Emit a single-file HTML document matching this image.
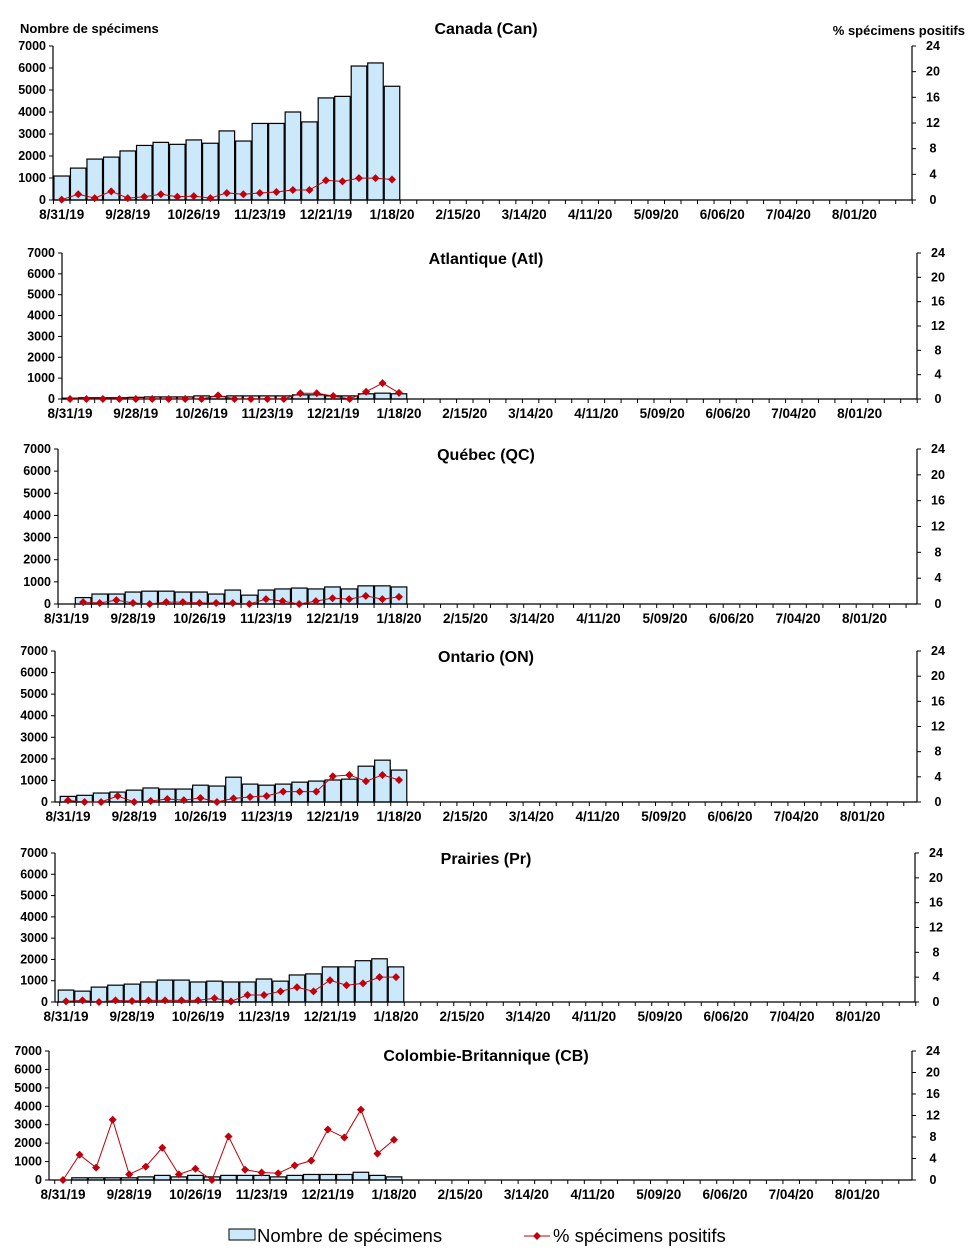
<!DOCTYPE html>
<html><head><meta charset="utf-8"><style>
body{margin:0;background:#fff;width:971px;height:1258px;overflow:hidden}
svg{display:block;font-family:"Liberation Sans",Arial,sans-serif}
</style></head><body>
<svg id="chart" width="971" height="1258" viewBox="0 0 971 1258" xmlns="http://www.w3.org/2000/svg">
<text x="20" y="33" font-size="13" font-weight="bold">Nombre de spécimens</text>
<text x="965" y="35" font-size="13" font-weight="bold" text-anchor="end">% spécimens positifs</text>
<g>
<rect x="229" y="1229" width="26" height="11" fill="#cce9fb" stroke="#000" stroke-width="1"/>
<text x="257" y="1242" font-size="18.5">Nombre de spécimens</text>
<line x1="524" y1="1236" x2="550" y2="1236" stroke="#c0000a" stroke-width="1"/>
<path d="M537 1232 L541 1236 L537 1240 L533 1236 Z" fill="#c0000a"/>
<text x="553" y="1242" font-size="18.5">% spécimens positifs</text>
</g>
</svg>
<script>
const xLabels = ["8/31/19","9/28/19","10/26/19","11/23/19","12/21/19","1/18/20","2/15/20","3/14/20","4/11/20","5/09/20","6/06/20","7/04/20","8/01/20"];
const leftTicks = [0,1000,2000,3000,4000,5000,6000,7000];
const rightTicks = [0,4,8,12,16,20,24];
const titles = ["Canada (Can)","Atlantique (Atl)","Québec (QC)","Ontario (ON)","Prairies (Pr)","Colombie-Britannique (CB)"];
const canSpec = [1090,1450,1860,1950,2230,2480,2620,2530,2730,2580,3140,2680,3480,3480,4000,3550,4640,4710,6090,6230,5170];
const canPct = [0.05,0.9,0.3,1.35,0.3,0.5,0.9,0.5,0.6,0.3,1.1,0.9,1.1,1.25,1.55,1.55,3.05,2.9,3.4,3.4,3.2];
const atlSpec = [40,60,60,60,80,100,100,100,150,120,150,150,150,150,200,200,150,150,250,280,250];
const atlPct = [0,0,0,0,0,0,0,0,0,0.6,0,0,0,0,0.95,0.95,0.5,0,1.2,2.6,1.0];
const qcSpec = [0,290,450,450,540,580,580,540,540,450,630,400,630,680,720,680,770,680,820,820,770];
const qcPct = [null,0.3,0.15,0.6,0.15,0,0.3,0.3,0.15,0.15,0.15,0,0.75,0.45,0,0.45,0.9,0.75,1.25,0.75,1.1];
const onSpec = [260,310,415,460,550,650,600,600,780,740,1150,830,780,830,920,970,1020,1060,1660,1940,1480];
const onPct = [0.26,0,0,0.95,0,0.15,0.48,0.3,0.63,0,0.58,0.8,0.95,1.64,1.64,1.64,4.1,4.3,3.3,4.3,3.5];
const prSpec = [560,510,700,790,840,940,1030,1030,940,980,940,940,1080,980,1270,1320,1650,1650,1940,2030,1650];
const prPct = [0.1,0.27,0,0.27,0.16,0.27,0.27,0.27,0.27,0.6,0.1,1.13,1.13,1.72,2.37,1.72,3.5,2.7,3.0,4.0,4.0];
const bcSpec = [0,120,120,120,120,170,250,170,250,170,250,250,250,170,250,300,300,300,420,250,170];
const bcPct = [0,4.7,2.3,11.2,1.05,2.5,6.0,1.05,2.1,0,8.1,1.9,1.4,1.25,2.7,3.6,9.4,7.9,13.1,4.9,7.5];

const specSeries = [canSpec,atlSpec,qcSpec,onSpec,prSpec,bcSpec];
const pctSeries = [canPct,atlPct,qcPct,onPct,prPct,bcPct];
const geo = [
 {axis:53,c0:61.7,c20:392,right:912,top:46,bottom:200,ty:34},
 {axis:62,c0:70,c20:399,right:917,top:253,bottom:399,ty:264},
 {axis:58,c0:66.5,c20:399,right:917,top:449,bottom:604,ty:460},
 {axis:55,c0:68,c20:399,right:917,top:651,bottom:802,ty:662},
 {axis:55,c0:66,c20:396,right:915,top:853,bottom:1002,ty:864},
 {axis:49,c0:63,c20:394,right:912,top:1051,bottom:1180,ty:1061}
];
const NS="http://www.w3.org/2000/svg";
const svg=document.getElementById('chart');
function mk(tag,attrs,parent){const e=document.createElementNS(NS,tag);for(const k in attrs)e.setAttribute(k,attrs[k]);(parent||svg).appendChild(e);return e;}
geo.forEach((g,p)=>{
  const grp=mk('g',{});
  
  
  const w=(g.c20-g.c0)/20;
  const xs=i=>g.c0+i*w;
  const yl=v=>g.bottom-v/7000*(g.bottom-g.top);
  const yr=v=>g.bottom-v/24*(g.bottom-g.top);
  const t=mk('text',{x:486,y:g.ty,'font-size':16,'font-weight':'bold','text-anchor':'middle'},grp);
  t.textContent=titles[p];
  
  
  specSeries[p].forEach((v,i)=>{
    if(!v) return;
    const b=mk('rect',{x:xs(i)-w/2+0.5,y:yl(v),width:w-1,height:g.bottom-yl(v),fill:'#cce9fb',stroke:'#000','stroke-width':1.2},grp);
    
    
  });
  mk('line',{x1:g.axis,y1:g.top,x2:g.axis,y2:g.bottom,stroke:'#000','stroke-width':1.2},grp);
  mk('line',{x1:g.right,y1:g.top,x2:g.right,y2:g.bottom,stroke:'#000','stroke-width':1.2},grp);
  mk('line',{x1:g.axis,y1:g.bottom,x2:g.right,y2:g.bottom,stroke:'#000','stroke-width':1.2},grp);
  leftTicks.forEach(v=>{
    const y=yl(v);
    mk('line',{x1:g.axis-4,y1:y,x2:g.axis,y2:y,stroke:'#000'},grp);
    const l=mk('text',{x:g.axis-7,y:y+4,'font-size':12.5,'font-weight':'bold','text-anchor':'end'},grp);
    l.textContent=v;
    
    
  });
  rightTicks.forEach(v=>{
    const y=yr(v);
    mk('line',{x1:g.right,y1:y,x2:g.right+4,y2:y,stroke:'#000'},grp);
    const l=mk('text',{x:g.right+21,y:y+4,'font-size':12.5,'font-weight':'bold','text-anchor':'middle'},grp);
    l.textContent=v;
    
    
  });
  for(let i=0;i<=52;i++){const x=g.c0-w/2+i*w; if(x>g.right+1)break; mk('line',{x1:x,y1:g.bottom,x2:x,y2:g.bottom+4,stroke:'#000'},grp);}
  xLabels.forEach((s,k)=>{
    const l=mk('text',{x:xs(k*4),y:g.bottom+19,'font-size':13.5,'font-weight':'bold','text-anchor':'middle'},grp);
    l.textContent=s;
    
    
  });
  const pts=[];
  pctSeries[p].forEach((v,i)=>{if(v!==null)pts.push([xs(i),yr(v)]);});
  const pl=mk('polyline',{points:pts.map(q=>q.join(',')).join(' '),fill:'none',stroke:'#c0000a','stroke-width':1},grp);
  
  
  pts.forEach(q=>{
    const d=mk('path',{d:`M${q[0]} ${q[1]-4}L${q[0]+4} ${q[1]}L${q[0]} ${q[1]+4}L${q[0]-4} ${q[1]}Z`,fill:'#c0000a'},grp);
    
    
  });
});
</script>
</body></html>
